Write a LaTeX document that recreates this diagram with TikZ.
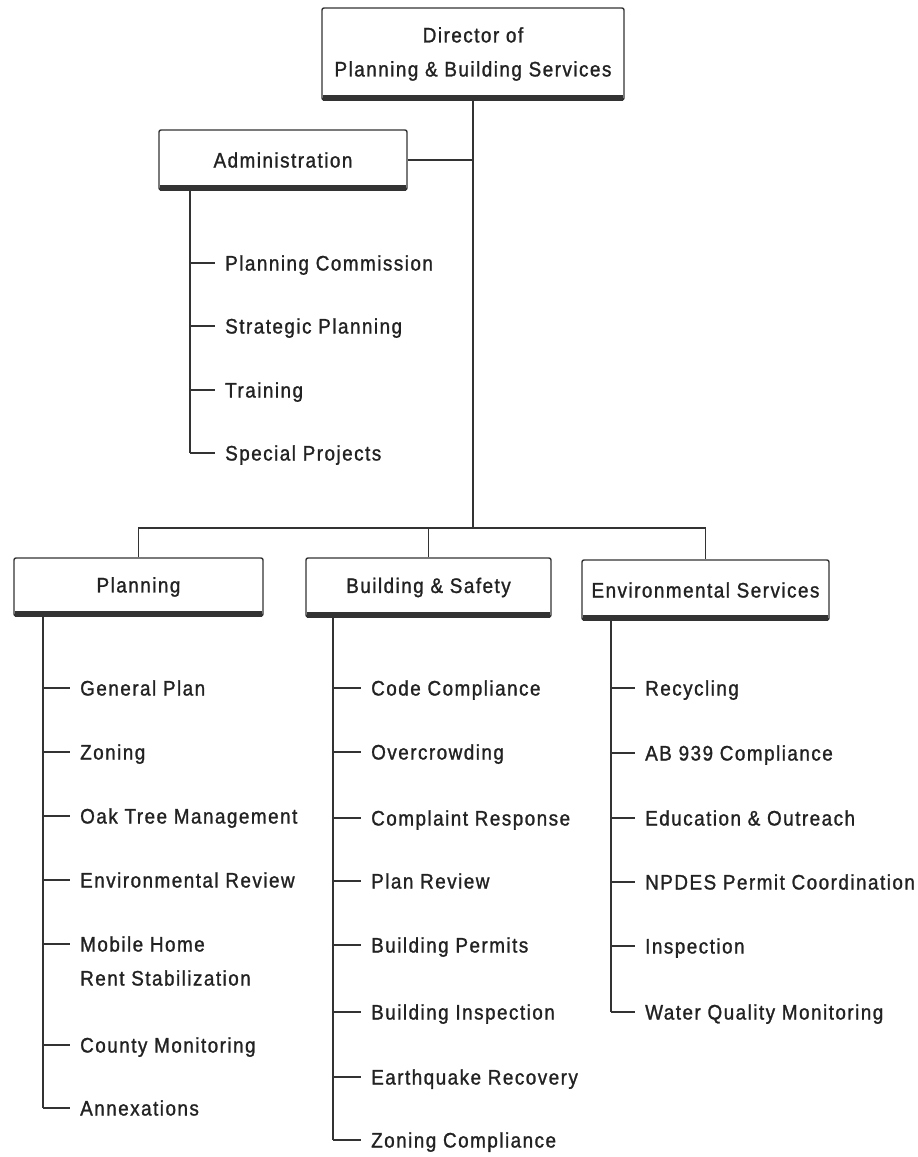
\documentclass[tikz,border=0pt]{standalone}
\usepackage{fontspec}
\setmainfont{Liberation Sans}[FakeStretch=0.9,LetterSpace=7,FakeBold=1.2]
\definecolor{linec}{HTML}{333333}
\definecolor{txtc}{HTML}{222222}
\newcommand{\itmfont}{\fontsize{21}{34}\selectfont}
\begin{document}
\begin{tikzpicture}[x=1pt,y=-1pt,
  conn/.style={draw=linec, line width=1.4pt},
  box/.style={draw=linec, line width=1.4pt, rounded corners=2pt, fill=white, inner sep=0pt, font=\itmfont, text=txtc, align=center},
  shbar/.style={draw=linec, line width=5.5pt},
  itm/.style={inner sep=0pt, anchor=west, text height=15pt, text depth=0pt, font=\itmfont, text=txtc}]
\useasboundingbox (0,0) rectangle (918,1157);

% boxes
\node[box, minimum width=302, minimum height=92] (dir) at (473,54) {Director of\\Planning \& Building Services};
\node[box, minimum width=248, minimum height=60] (adm) at (283,160) {Administration};
\node[box, minimum width=249, minimum height=58] (plan) at (138.5,587) {Planning};
\node[box, minimum width=245, minimum height=59] (bld) at (428.5,587.5) {Building \& Safety};
\node[box, minimum width=247, minimum height=60] (env) at (705.5,590) {Environmental Services};
\foreach \n in {dir,adm,plan,bld,env}
  \draw[shbar] ([shift={(1.5pt,2.8pt)}]\n.south west) -- ([shift={(-1.5pt,2.8pt)}]\n.south east);

% main connectors
\coordinate (j) at (473,528);
\draw[conn] (dir.south) -- (j);
\draw[conn] (adm.east) -- (adm.east -| dir.south);
\draw[conn] (plan.north) -- (plan.north |- j) -- (env.north |- j) -- (env.north);
\draw[conn] (bld.north) -- (bld.north |- j);

% administration items
\coordinate (av) at (190,0);
\foreach \nm/\y/\t in {a1/263/Planning Commission, a2/326/Strategic Planning, a3/390/Training, a4/453/Special Projects}{
  \node[itm] (\nm) at (225,\y) {\t};
  \draw[conn] (av |- \nm.west) -- ([xshift=-10pt]\nm.west);
}
\draw[conn] (av |- adm.south) -- (av |- a4.west);

% planning items
\coordinate (pv) at (43,0);
\foreach \nm/\y/\t in {p1/688/General Plan, p2/752/Zoning, p3/816/Oak Tree Management, p4/880/Environmental Review, p5/944/Mobile Home, p6/1045/County Monitoring, p7/1108/Annexations}{
  \node[itm] (\nm) at (80,\y) {\t};
  \draw[conn] (pv |- \nm.west) -- ([xshift=-10pt]\nm.west);
}
\node[itm] (p5b) at (80,978) {Rent Stabilization};
\draw[conn] (pv |- plan.south) -- (pv |- p7.west);

% building items
\coordinate (bv) at (333,0);
\foreach \nm/\y/\t in {b1/688/Code Compliance, b2/752/Overcrowding, b3/818/Complaint Response, b4/881/Plan Review, b5/945/Building Permits, b6/1012/Building Inspection, b7/1077/Earthquake Recovery, b8/1140/Zoning Compliance}{
  \node[itm] (\nm) at (371,\y) {\t};
  \draw[conn] (bv |- \nm.west) -- ([xshift=-10pt]\nm.west);
}
\draw[conn] (bv |- bld.south) -- (bv |- b8.west);

% environmental items
\coordinate (ev) at (611,0);
\foreach \nm/\y/\t in {e1/688/Recycling, e2/753/AB 939 Compliance, e3/818/Education \& Outreach, e4/882/NPDES Permit Coordination, e5/946/Inspection, e6/1012/Water Quality Monitoring}{
  \node[itm] (\nm) at (645,\y) {\t};
  \draw[conn] (ev |- \nm.west) -- ([xshift=-10pt]\nm.west);
}
\draw[conn] (ev |- env.south) -- (ev |- e6.west);
\end{tikzpicture}
\end{document}
